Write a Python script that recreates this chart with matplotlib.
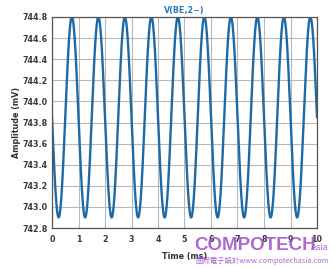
import numpy as np
import matplotlib
matplotlib.use("Agg")
import matplotlib.pyplot as plt

# Signal parameters
dc_level_mv = 743.85
amplitude_mv = 0.95
frequency_khz = 1.0
t_start_ms, t_end_ms = 0.0, 10.0

x_ticks = [0, 1, 2, 3, 4, 5, 6, 7, 8, 9, 10]
y_ticks = [742.8, 743.0, 743.2, 743.4, 743.6, 743.8, 744.0, 744.2, 744.4, 744.6, 744.8]
title = "V(BE,2\u2212)"
x_label = "Time (ms)"
y_label = "Amplitude (mV)"

t = np.linspace(t_start_ms, t_end_ms, 4000)
v = dc_level_mv - amplitude_mv * np.sin(2 * np.pi * frequency_khz * t)

plt.rcParams['font.family'] = ['DejaVu Sans', 'Noto Sans CJK TC']

fig = plt.figure(figsize=(3.35, 2.69), dpi=100)
ax = fig.add_axes([52/335, 1-228/269, (317-52)/335, (228-17)/269])

ax.plot(t, v, color="#1d6aa5", lw=1.7)
ax.set_xlim(0, 10)
ax.set_ylim(742.8, 744.8)
ax.set_xticks(x_ticks)
ax.set_yticks(y_ticks)
ax.set_xticklabels([str(x) for x in x_ticks])
ax.set_yticklabels([f"{y:.1f}" for y in y_ticks])
ax.grid(True, color="#b8b8b8", lw=0.8)
ax.set_axisbelow(True)
ax.tick_params(axis="y", length=0, labelsize=5.8, colors="#3a3a3a", pad=3)
ax.tick_params(axis="x", length=0, labelsize=5.8, colors="#3a3a3a", pad=5)
for lab in ax.get_xticklabels() + ax.get_yticklabels():
    lab.set_fontweight("bold")
for s in ax.spines.values():
    s.set_color("#555555")
    s.set_linewidth(0.9)

ax.set_title(title, fontsize=5.8, color="#2b7bbf", fontweight="bold", pad=3)
ax.set_xlabel(x_label, fontsize=5.8, color="#333333", fontweight="bold", labelpad=6)
ax.set_ylabel(y_label, fontsize=5.8, color="#333333", fontweight="bold", labelpad=1)

# watermark
fig.text(194/335, 1-250/269, "COMPOTECH", fontsize=13.5, color="#a04fc8", alpha=0.85,
         fontweight="bold", family="Liberation Sans")
fig.text(311/335, 1-250/269, "Asia", fontsize=6.5, color="#a04fc8", alpha=0.85,
         family="Liberation Sans")
fig.text(195/335, 1-263/269, "國際電子設計www.compotechasia.com", fontsize=5.3, color="#a04fc8",
         alpha=0.85, family=['Noto Sans CJK TC', 'DejaVu Sans'])

fig.savefig("out.png", dpi=100)
